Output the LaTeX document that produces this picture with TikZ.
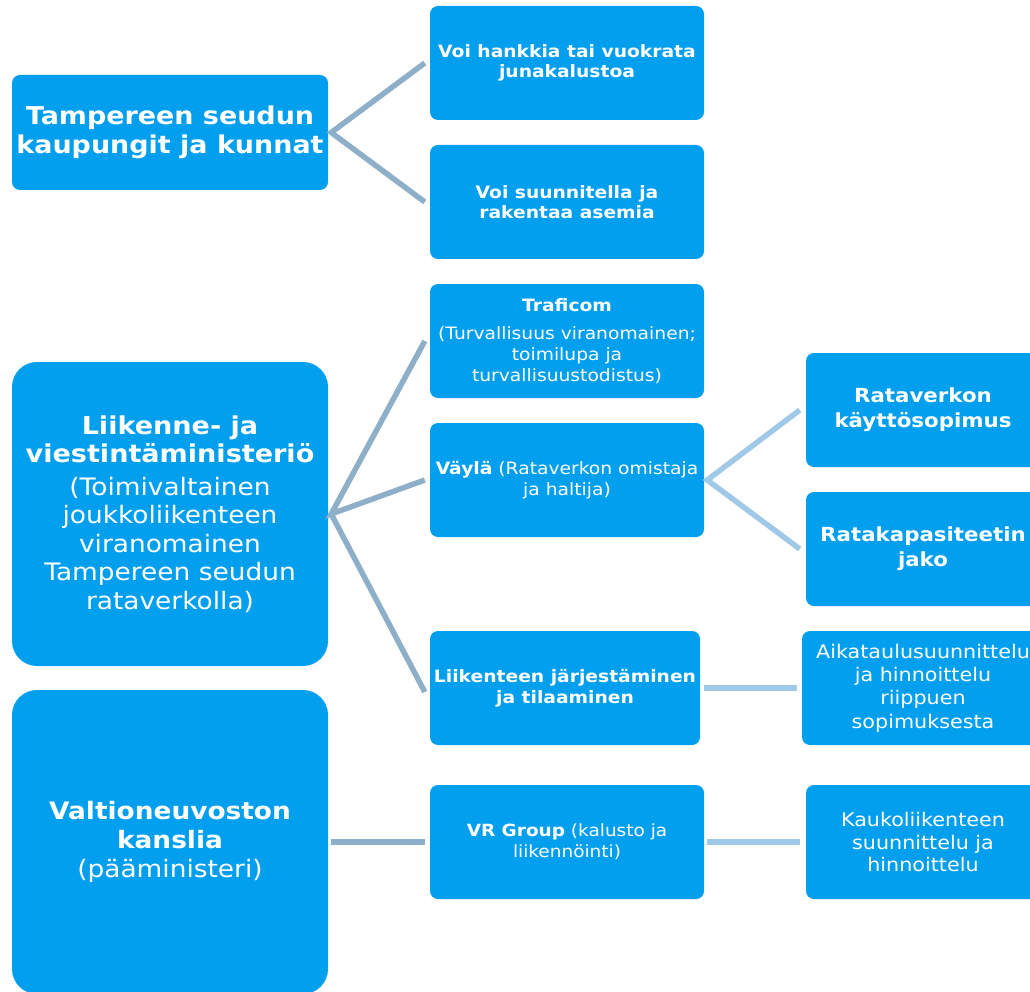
\documentclass[tikz,border=0pt]{standalone}
\usepackage{fontspec}
\setmainfont{DejaVu Sans}[FakeStretch=1.1]
\definecolor{boxblue}{HTML}{039FEF}
\definecolor{linkA}{HTML}{8EAFC8}
\definecolor{linkB}{HTML}{A0C9E8}
\tikzset{
  box/.style={fill=boxblue, text=white, rounded corners=8pt, align=center, inner sep=0pt,
    minimum width=274pt, minimum height=114pt},
  bigbox/.style={fill=boxblue, text=white, rounded corners=25pt, align=center, inner sep=0pt,
    minimum width=316pt, minimum height=304pt},
  topbox/.style={fill=boxblue, text=white, rounded corners=8pt, align=center, inner sep=0pt,
    minimum width=316pt, minimum height=115pt},
  linka/.style={draw=linkA, line width=5.5pt},
  linkb/.style={draw=linkB, line width=5.5pt},
  fsmall/.style={font=\fontsize{17}{20.5}\selectfont},
}
\newcommand{\bigbold}[1]{\textbf{\fontsize{24.6}{29}\selectfont #1}}
\begin{document}
\begin{tikzpicture}[x=1pt,y=-1pt]
\useasboundingbox (0,0) rectangle (1030,992);
% left column
\node[topbox, font=\bfseries\fontsize{24.5}{29}\selectfont] (tamp) at (170,132.5) {Tampereen seudun\\kaupungit ja kunnat};
\node[bigbox, font=\fontsize{24}{28.5}\selectfont] (lvm) at (170,514) {\bigbold{Liikenne- ja}\\\bigbold{viestintäministeriö}\\[4pt](Toimivaltainen\\joukkoliikenteen\\viranomainen\\Tampereen seudun\\rataverkolla)};
\node[bigbox, font=\fontsize{24}{29}\selectfont] (vnk) at (170,842) {\textbf{Valtioneuvoston}\\\textbf{kanslia}\\(pääministeri)};
% middle column
\node[box, fsmall] (voi1) at (567,63) {\textbf{Voi hankkia tai vuokrata}\\\textbf{junakalustoa}};
\node[box, fsmall] (voi2) at (567,202) {\textbf{Voi suunnitella ja}\\\textbf{rakentaa asemia}};
\node[box, font=\fontsize{17}{21}\selectfont] (traf) at (567,341) {\textbf{Traficom}\\[7pt](Turvallisuus viranomainen;\\toimilupa ja\\turvallisuustodistus)};
\node[box, font=\fontsize{17}{21}\selectfont] (vayla) at (567,480) {\textbf{Väylä} (Rataverkon omistaja\\ja haltija)};
\node[box, fsmall, minimum width=270pt] (jarj) at (565,688) {\textbf{Liikenteen järjestäminen}\\\textbf{ja tilaaminen}};
\node[box, font=\fontsize{16.8}{21}\selectfont] (vr) at (567,842) {\textbf{VR Group} (kalusto ja\\liikennöinti)};
% right column
\node[box, font=\bfseries\fontsize{19.4}{25}\selectfont, minimum width=234pt] (kaytto) at (923,410) {Rataverkon\\käyttösopimus};
\node[box, font=\bfseries\fontsize{19.4}{25}\selectfont, minimum width=234pt] (kapas) at (923,549) {Ratakapasiteetin\\jako};
\node[box, font=\fontsize{18.8}{23.3}\selectfont, minimum width=242pt] (aika) at (923,688) {Aikataulusuunnittelu\\ja hinnoittelu\\riippuen\\sopimuksesta};
\node[box, font=\fontsize{18.8}{22.5}\selectfont, minimum width=234pt] (kauko) at (923,842) {Kaukoliikenteen\\suunnittelu ja\\hinnoittelu};
% connectors
\coordinate (tampj) at ([xshift=3pt]tamp.east);
\coordinate (lvmj) at ([xshift=3pt]lvm.east);
\coordinate (vaylaj) at ([xshift=3pt]vayla.east);
\draw[linka] ([xshift=-5pt]voi1.west) -- (tampj) -- ([xshift=-5pt]voi2.west);
\draw[linka] ([xshift=-5pt]traf.west) -- (lvmj) -- ([xshift=-5pt]vayla.west);
\draw[linka] (lvmj) -- ([xshift=-5pt,yshift=-4pt]jarj.west);
\draw[linkb] ([xshift=-6pt]kaytto.west) -- (vaylaj) -- ([xshift=-6pt]kapas.west);
\draw[linkb] ([xshift=4pt]jarj.east) -- ([xshift=-5pt]aika.west);
\draw[linka] ([xshift=3pt]vnk.east) -- ([xshift=-5pt]vr.west);
\draw[linkb] ([xshift=3pt]vr.east) -- ([xshift=-6pt]kauko.west);
\end{tikzpicture}
\end{document}
